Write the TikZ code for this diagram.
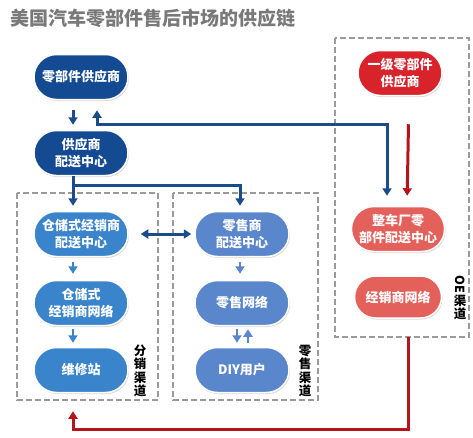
\documentclass[tikz,border=0pt]{standalone}
\usepackage{fontspec}
\usepackage{graphicx}
\setmainfont{Noto Sans CJK SC}
\usetikzlibrary{positioning,shapes.misc,shadows,arrows.meta}

\definecolor{darkblue}{HTML}{144A92}
\definecolor{midblue}{HTML}{3A84CC}
\definecolor{softblue}{HTML}{5A86CC}
\definecolor{oered}{HTML}{D8232A}
\definecolor{softred}{HTML}{E4605A}
\definecolor{linkblue}{HTML}{1A4C8C}
\definecolor{linkred}{HTML}{B4141C}
\definecolor{boxgray}{HTML}{9A9A9A}

\begin{document}
\begin{tikzpicture}[x=1pt,y=-1pt,
    pill/.style={rounded rectangle, draw=white, line width=1.5pt, text=white,
        minimum width=98pt, minimum height=45pt, inner sep=2pt, align=center,
        font=\bfseries\fontsize{13}{17}\selectfont,
        drop shadow={shadow xshift=1pt, shadow yshift=-1.5pt, opacity=0.3}},
    darkpill/.style={pill, fill=darkblue},
    bluepill/.style={pill, fill=midblue},
    softpill/.style={pill, fill=softblue},
    redpill/.style={pill, fill=oered, minimum width=88pt},
    softredpill/.style={pill, fill=softred, minimum width=91pt},
    tip/.style={Triangle[length=7.5pt,width=9pt]},
    link/.style={line width=3pt, -{Triangle[length=7.5pt,width=9pt]}},
    duallink/.style={line width=3pt, {Triangle[length=7.5pt,width=9pt]}-{Triangle[length=7.5pt,width=9pt]}},
    chanbox/.style={draw=boxgray, line width=1.5pt, dash pattern=on 6pt off 3pt},
    chanlabel/.style={align=center, inner sep=0pt, font=\bfseries\fontsize{12.5}{13.5}\selectfont}]
  \useasboundingbox (0,0) rectangle (473,437);
  \fill[white] (0,0) rectangle (473,437);

  \node[anchor=west, inner sep=0pt, text=gray!95!black, font=\bfseries\fontsize{19}{20}\selectfont] (title) at (10,18) {美国汽车零部件售后市场的供应链};

  % channel boxes
  \draw[chanbox] (17,193) rectangle (158,400);
  \draw[chanbox] (173,193) rectangle (318,400);
  \draw[chanbox] (335,38) rectangle (469,337);

  % nodes
  \node[darkpill] (supplier) at (81,77) {零部件供应商};
  \node[darkpill] (supcenter) at (81,153) {供应商\\配送中心};
  \node[bluepill] (whdist) at (81,234) {仓储式经销商\\配送中心};
  \node[bluepill] (whnet) at (81,303) {仓储式\\经销商网络};
  \node[bluepill] (repair) at (81,370) {维修站};
  \node[softpill] (retdist) at (242,234) {零售商\\配送中心};
  \node[softpill] (retnet) at (242,303) {零售网络};
  \node[softpill] (diy) at (242,370) {DIY用户};
  \node[redpill] (tier1) at (400,73) {一级零部件\\供应商};
  \node[softredpill] (oemdist) at (398,229) {整车厂零\\部件配送中心};
  \node[softredpill, minimum height=42pt] (dealer) at (398,297) {经销商网络};

  \node[chanlabel] (distlabel) at (140,371) {分\\销\\渠\\道};
  \node[chanlabel] (retlabel) at (305,371) {零\\售\\渠\\道};
  \node[chanlabel] (oelabel) at (460,298) {\rotatebox{-90}{OE}\\渠\\道};

  % connectors
  \draw[link, linkblue, shorten <=10pt, shorten >=5pt] ([xshift=-8pt]supplier.south) -- ([xshift=-8pt]supcenter.north);
  \draw[duallink, linkblue, shorten <=10pt, shorten >=10pt]
    ([xshift=-11pt]oemdist.north) |- ([xshift=16pt,yshift=-24.5pt]supplier.south) -- ([xshift=16pt]supplier.south);
  \draw[link, linkred, shorten <=28pt, shorten >=10pt] ([xshift=9pt]tier1.south) -- ([xshift=9pt]oemdist.north);

  \draw[link, linkblue, shorten >=5pt] ([xshift=-8pt]supcenter.south) -- ([xshift=-8pt]whdist.north);
  \draw[link, linkblue, shorten >=5pt] ([xshift=-8pt,yshift=-9pt]supcenter.south) -| ([xshift=-2pt]retdist.north);
  \draw[duallink, linkblue, shorten <=12pt, shorten >=3pt] (whdist.east) -- (retdist.west);

  \draw[link, midblue, line width=2.5pt, shorten <=5pt, shorten >=6pt] ([xshift=-8pt]whdist.south) -- ([xshift=-8pt]whnet.north);
  \draw[link, midblue, line width=2.5pt, shorten <=3pt, shorten >=4pt] ([xshift=-8pt]whnet.south) -- ([xshift=-8pt]repair.north);
  \draw[link, softblue, line width=2.5pt, shorten <=5pt, shorten >=6pt] ([xshift=-2pt]retdist.south) -- ([xshift=-2pt]retnet.north);
  \draw[link, softblue, line width=2.5pt, shorten <=3pt, shorten >=4pt] ([xshift=-5pt]retnet.south) -- ([xshift=-5pt]diy.north);
  \draw[link, softblue, line width=2.5pt, shorten <=4pt, shorten >=3pt] ([xshift=6pt]diy.north) -- ([xshift=6pt]retnet.south);

  \draw[link, linkred, shorten <=18pt] ([xshift=10pt]dealer.south) |- ([xshift=-8pt,yshift=-36pt]repair.south) -- ([xshift=-8pt,yshift=-18pt]repair.south);
\end{tikzpicture}
\end{document}
